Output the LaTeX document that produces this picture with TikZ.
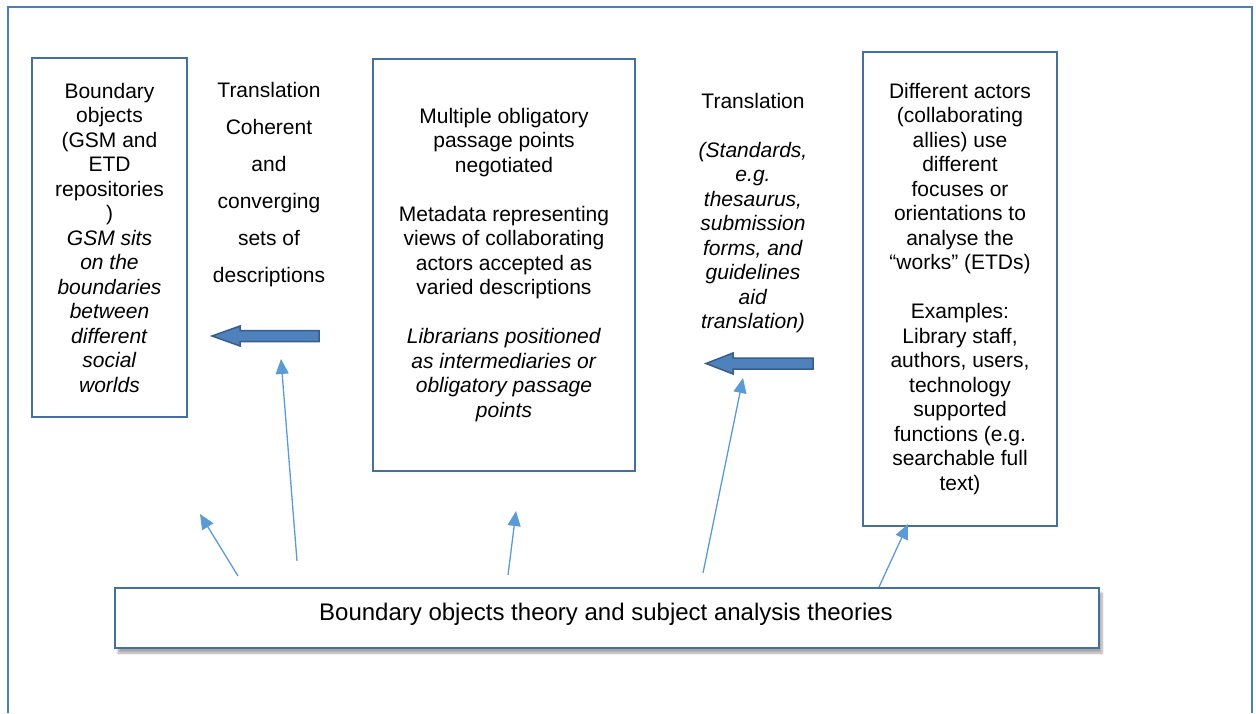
\documentclass[tikz,border=0pt]{standalone}
\usepackage{fontspec}
\setmainfont{Liberation Sans}
\usetikzlibrary{arrows.meta, shadows.blur}
\definecolor{ink}{HTML}{000000}
\definecolor{frame}{HTML}{4A7EBB}
\definecolor{edge}{HTML}{41719C}
\definecolor{fatfill}{HTML}{4F81BD}
\definecolor{fatedge}{HTML}{385D8A}
\definecolor{thin}{HTML}{5B9BD5}
\tikzset{
  font=\fontsize{21}{24.5}\selectfont,
  %
  box/.style={draw=edge, line width=2pt, fill=white, align=center,
              text=ink, inner sep=0pt},
  base/.style={box, blur shadow={shadow xshift=3pt, shadow yshift=-5pt,
               shadow blur steps=8, shadow opacity=35}},
  lbl/.style={align=center, text=ink, inner sep=0pt},
  %
  fat/.style={draw=fatedge, line width=1.5pt, fill=fatfill, line join=miter},
  flow/.style={draw=thin, line width=1.3pt, -{Triangle[length=15pt, width=13pt]}},
}

\begin{document}
\begin{tikzpicture}[x=1pt, y=-1pt]
\useasboundingbox (0,0) rectangle (1256,713);

% outer frame, open at the bottom
\draw[draw=frame, line width=2.5pt] (8,713) -- (8,7) -- (1252,7) -- (1252,713);

% =========================================================================
% LEFT: boundary objects
% =========================================================================
\node[box, minimum width=155pt, minimum height=359pt] (bobj) at (109.5,237.5)
  {Boundary\\objects\\(GSM and\\ETD\\repositories\\)\\\textit{GSM sits}\\\textit{on the}\\\textit{boundaries}\\\textit{between}\\\textit{different}\\\textit{social}\\\textit{worlds}};

\node[lbl, font=\fontsize{21}{37}\selectfont] (trans1) at (269,185)
  {Translation\\Coherent\\and\\converging\\sets of\\descriptions};

\coordinate (tipL) at (212,336);
\draw[fat] (tipL) -- ++(28,-10) -- ++(0,4.5) -- ++(79,0) -- ++(0,11)
  -- ++(-79,0) -- ++(0,4.5) -- cycle;

% =========================================================================
% MIDDLE: obligatory passage points
% =========================================================================
\node[box, minimum width=262pt, minimum height=412pt] (opp) at (504,265)
  {Multiple obligatory\\passage points\\negotiated\\[24.5pt]Metadata representing\\views of collaborating\\actors accepted as\\varied descriptions\\[24.5pt]\textit{Librarians positioned}\\\textit{as intermediaries or}\\\textit{obligatory passage}\\\textit{points}};

\node[lbl] (trans2) at (753,213)
  {Translation\\[24.5pt]\textit{(Standards,}\\\textit{e.g.}\\\textit{thesaurus,}\\\textit{submission}\\\textit{forms, and}\\\textit{guidelines}\\\textit{aid}\\\textit{translation)}};

\coordinate (tipR) at (706,363.5);
\draw[fat] (tipR) -- ++(27,-10.5) -- ++(0,5) -- ++(80,0) -- ++(0,11)
  -- ++(-80,0) -- ++(0,5) -- cycle;

% =========================================================================
% RIGHT: actors
% =========================================================================
\node[box, minimum width=194pt, minimum height=474pt] (actors) at (960,289)
  {Different actors\\(collaborating\\allies) use\\different\\focuses or\\orientations to\\analyse the\\“works” (ETDs)\\[24.5pt]Examples:\\Library staff,\\authors, users,\\technology\\supported\\functions (e.g.\\searchable full\\text)};

% =========================================================================
% BOTTOM: theories and the thin arrows
% =========================================================================
\node[base, minimum width=984pt, minimum height=60pt] (theory) at (607,618) {};
\node[lbl, font=\fontsize{24}{28}\selectfont] (theorytxt) at (606,614)
  {Boundary objects theory and subject analysis theories};

\coordinate (a1s) at (238,576);  \coordinate (a1e) at (200,514);
\coordinate (a2s) at (297,561);  \coordinate (a2e) at (281,359);
\coordinate (a3s) at (508,575);  \coordinate (a3e) at (516,511);
\coordinate (a4s) at (703,573);  \coordinate (a4e) at (743,378);
\coordinate (a5s) at (879,0);    \coordinate (a5e) at (908,524);

\draw[flow] (a1s) -- (a1e);
\draw[flow] (a2s) -- (a2e);
\draw[flow] (a3s) -- (a3e);
\draw[flow] (a4s) -- (a4e);
\draw[flow] (theory.north -| a5s) -- (a5e);

\end{tikzpicture}
\end{document}
